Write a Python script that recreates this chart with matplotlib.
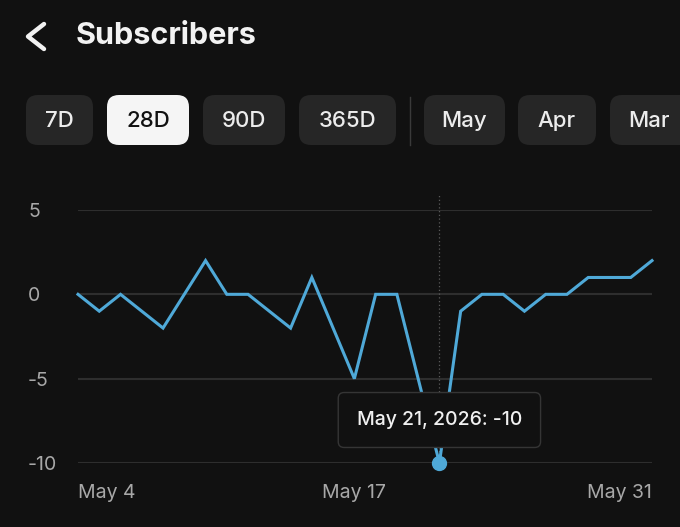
import numpy as np
import matplotlib
matplotlib.use("Agg")
import matplotlib.pyplot as plt
from matplotlib.patches import FancyBboxPatch

# =========================
# data
# =========================
day_labels = ["May 4", "May 17", "May 31"]
day_label_pos = [0, 13, 27]
subs_change = [0, -1, 0, -1, -2, 0, 2, 0, 0, -1, -2, 1, -2, -5,
               0, 0, -5, -10, -1, 0, 0, -1, 0, 0, 1, 1, 1, 2]
y_ticks = [5, 0, -5, -10]
selected_idx = 17
selected_text = "May 21, 2026: -10"

range_buttons = ["7D", "28D", "90D", "365D"]
month_buttons = ["May", "Apr", "Mar"]
active_button = "28D"

# =========================
# style
# =========================
BG = "#111111"
BTN = "#262626"
LINE = "#4fa9d8"
GRID = "#2e2e2e"
LABEL = "#a8a8a8"
FONT = ["Inter", "DejaVu Sans"]
plt.rcParams["font.family"] = FONT

fig = plt.figure(figsize=(6.8, 5.27), dpi=100, facecolor=BG)

# overlay in pixel coords for the app header
ui = fig.add_axes([0, 0, 1, 1])
ui.set_xlim(0, 680)
ui.set_ylim(527, 0)
ui.axis("off")
ui.set_facecolor(BG)

ui.plot([44, 28, 44], [24, 36.5, 49], color="#f2f2f2", lw=3.2,
        solid_capstyle="round", solid_joinstyle="round")
ui.text(76, 36, "Subscribers", color="#f2f2f2", fontsize=22,
        fontweight="bold", va="center", ha="left")

btn_x = [26, 107, 203, 299]
btn_w = [67, 82, 82, 97]
for label, x0, w in zip(range_buttons, btn_x, btn_w):
    active = label == active_button
    ui.add_patch(FancyBboxPatch((x0, 95), w, 50,
                                boxstyle="round,pad=0,rounding_size=12",
                                fc="#f5f5f5" if active else BTN, ec="none"))
    ui.text(x0 + w / 2, 121, label, color="#111111" if active else "#ececec",
            fontsize=16, ha="center", va="center", fontweight="medium")

ui.plot([410, 410], [97, 145], color="#3a3a3a", lw=1)

m_x = [424, 518, 610]
m_w = [81, 78, 90]
for label, x0, w in zip(month_buttons, m_x, m_w):
    ui.add_patch(FancyBboxPatch((x0, 95), w, 50,
                                boxstyle="round,pad=0,rounding_size=12",
                                fc=BTN, ec="none"))
    ui.text(x0 + 18 if label == "Mar" else x0 + w / 2, 121, label,
            color="#ececec", fontsize=16,
            ha="left" if label == "Mar" else "center", va="center",
            fontweight="medium")

# =========================
# chart
# =========================
ax = fig.add_axes([78 / 680, 1 - 463 / 527, (652 - 78) / 680, (463 - 210) / 527])
ax.set_facecolor("none")
x = np.arange(len(subs_change))
ax.plot(x, subs_change, color=LINE, lw=2.2, zorder=3, clip_on=False,
        solid_joinstyle="miter")

ax.set_xlim(0, len(subs_change) - 1)
ax.set_ylim(-10, 5)
ax.set_yticks(y_ticks)
ax.set_yticklabels([str(v) for v in y_ticks])
ax.set_xticks(day_label_pos)
ax.set_xticklabels(day_labels)
for lbl, ha in zip(ax.get_xticklabels(), ["left", "center", "right"]):
    lbl.set_ha(ha)
for lbl in ax.get_yticklabels():
    lbl.set_ha("left")
ax.tick_params(axis="y", length=0, pad=36, labelcolor=LABEL, labelsize=14)
ax.tick_params(axis="x", length=0, pad=15, labelcolor=LABEL, labelsize=14)
ax.grid(axis="y", color=GRID, lw=1.5)
ax.grid(axis="x", visible=False)
for s in ax.spines.values():
    s.set_visible(False)

# cursor + tooltip
ax.axvline(selected_idx, ymin=0, ymax=1.06, color="#5a5a5a", lw=0.9,
           ls=(0, (1, 2)), zorder=2, clip_on=False)
ax.plot(selected_idx, subs_change[selected_idx], "o", color=LINE, ms=10,
        zorder=7, clip_on=False)
ax.annotate(selected_text, xy=(selected_idx, subs_change[selected_idx]),
            xytext=(0, 43), textcoords="offset pixels", ha="center", va="center",
            color="#f0f0f0", fontsize=14, fontweight="medium", zorder=6,
            bbox=dict(boxstyle="round,pad=0.95,rounding_size=0.3", fc=BG,
                      ec="#353535", lw=1))

fig.savefig("out.png", dpi=100, facecolor=BG)
